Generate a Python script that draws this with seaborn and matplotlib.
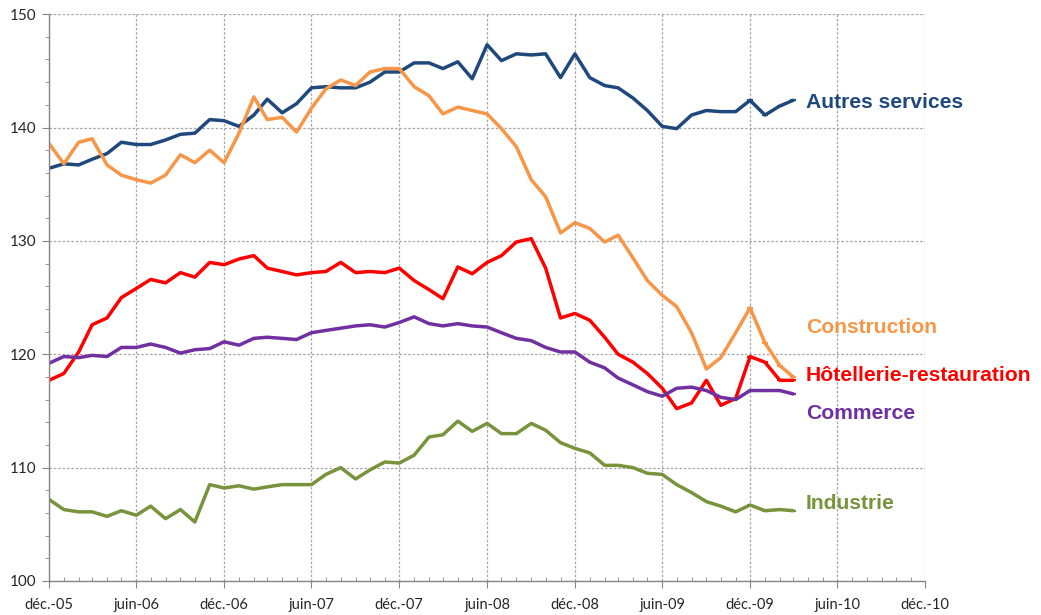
import numpy as np
import pandas as pd
import matplotlib
matplotlib.use("Agg")
import matplotlib.pyplot as plt
import matplotlib.dates as mdates
import seaborn as sns

# ---- data (monthly, déc. 2005 -> mars 2010) ----
months = pd.date_range("2005-12-01", "2010-03-01", freq="MS")

autres_services = [136.4, 136.8, 136.7, 137.2, 137.7, 138.7, 138.5, 138.5, 138.9, 139.4,
                   139.5, 140.7, 140.6, 140.1, 141.1, 142.5, 141.3, 142.1, 143.5, 143.6,
                   143.5, 143.5, 144.0, 144.9, 144.9, 145.7, 145.7, 145.2, 145.8, 144.3,
                   147.3, 145.9, 146.5, 146.4, 146.5, 144.4, 146.5, 144.4, 143.7, 143.5,
                   142.6, 141.5, 140.1, 139.9, 141.1, 141.5, 141.4, 141.4, 142.4, 141.1,
                   141.9, 142.4]
construction = [138.6, 136.8, 138.7, 139.0, 136.7, 135.8, 135.4, 135.1, 135.8, 137.6,
                136.9, 138.0, 136.9, 139.5, 142.7, 140.7, 140.9, 139.6, 141.7, 143.4,
                144.2, 143.7, 144.9, 145.2, 145.2, 143.6, 142.8, 141.2, 141.8, 141.5,
                141.2, 139.9, 138.3, 135.4, 133.9, 130.7, 131.6, 131.1, 129.9, 130.5,
                128.5, 126.5, 125.2, 124.2, 121.9, 118.7, 119.7, 121.9, 124.1, 121.0,
                119.0, 118.0]
hotellerie = [117.7, 118.3, 120.2, 122.6, 123.2, 125.0, 125.8, 126.6, 126.3, 127.2,
              126.8, 128.1, 127.9, 128.4, 128.7, 127.6, 127.3, 127.0, 127.2, 127.3,
              128.1, 127.2, 127.3, 127.2, 127.6, 126.5, 125.7, 124.9, 127.7, 127.1,
              128.1, 128.7, 129.9, 130.2, 127.6, 123.2, 123.6, 123.0, 121.5, 120.0,
              119.3, 118.3, 117.0, 115.2, 115.7, 117.7, 115.5, 116.1, 119.8, 119.3,
              117.7, 117.7]
commerce = [119.2, 119.8, 119.7, 119.9, 119.8, 120.6, 120.6, 120.9, 120.6, 120.1,
            120.4, 120.5, 121.1, 120.8, 121.4, 121.5, 121.4, 121.3, 121.9, 122.1,
            122.3, 122.5, 122.6, 122.4, 122.8, 123.3, 122.7, 122.5, 122.7, 122.5,
            122.4, 121.9, 121.4, 121.2, 120.6, 120.2, 120.2, 119.3, 118.8, 117.9,
            117.3, 116.7, 116.3, 117.0, 117.1, 116.8, 116.2, 116.0, 116.8, 116.8,
            116.8, 116.5]
industrie = [107.2, 106.3, 106.1, 106.1, 105.7, 106.2, 105.8, 106.6, 105.5, 106.3,
             105.2, 108.5, 108.2, 108.4, 108.1, 108.3, 108.5, 108.5, 108.5, 109.4,
             110.0, 109.0, 109.8, 110.5, 110.4, 111.1, 112.7, 112.9, 114.1, 113.2,
             113.9, 113.0, 113.0, 113.9, 113.3, 112.2, 111.7, 111.3, 110.2, 110.2,
             110.0, 109.5, 109.4, 108.5, 107.8, 107.0, 106.6, 106.1, 106.7, 106.2,
             106.3, 106.2]

series_names = ["Autres services", "Construction", "Hôtellerie-restauration",
                "Commerce", "Industrie"]
series_values = [autres_services, construction, hotellerie, commerce, industrie]
colors = ["#1F497D", "#F79646", "#FF0000", "#7030A0", "#77933C"]
label_values = [142.2, 122.4, 118.1, 114.8, 106.8]

fr_months = {1: "janv.", 2: "févr.", 3: "mars", 4: "avr.", 5: "mai", 6: "juin",
             7: "juil.", 8: "août", 9: "sept.", 10: "oct.", 11: "nov.", 12: "déc."}

df = pd.concat([pd.DataFrame({"date": months, "value": v, "serie": n})
                for n, v in zip(series_names, series_values)], ignore_index=True)

# ---- figure ----
sns.set_style("white")
plt.rcParams["font.family"] = ["Lato", "DejaVu Sans"]

fig = plt.figure(figsize=(10.41, 6.15), dpi=100)
ax = fig.add_axes([0.047, 0.0553, 0.8418, 0.9217])

sns.lineplot(data=df, x="date", y="value", hue="serie", hue_order=series_names,
             palette=colors, linewidth=2.5, legend=False, ax=ax)

# small end markers (last months)
for v, c in zip(series_values, colors):
    ax.plot(months[-4:], v[-4:], ls="none", marker="_", ms=5, mew=1.5, color=c)

ax.set_xlim(pd.Timestamp("2005-12-01"), pd.Timestamp("2010-12-01"))
ax.set_ylim(100, 150)
ax.set_xlabel("")
ax.set_ylabel("")

ax.xaxis.set_major_locator(mdates.MonthLocator(bymonth=(6, 12)))
ax.xaxis.set_minor_locator(mdates.MonthLocator())
ax.xaxis.set_major_formatter(plt.FuncFormatter(
    lambda x, pos: f"{fr_months[mdates.num2date(x).month]}-{mdates.num2date(x).year % 100:02d}"))
ax.yaxis.set_major_locator(plt.MultipleLocator(10))
ax.yaxis.set_minor_locator(plt.MultipleLocator(2))

ax.grid(True, which="major", color="#A6A6A6", linestyle=(0, (2, 1.5)), linewidth=0.9)
for s in ["top", "right"]:
    ax.spines[s].set_visible(False)
for s in ["left", "bottom"]:
    ax.spines[s].set_color("#868686")
    ax.spines[s].set_linewidth(1.0)

ax.tick_params(axis="x", which="major", direction="out", length=5, color="#868686",
               labelsize=10.5, pad=7)
ax.tick_params(axis="x", which="minor", direction="in", length=3, color="#868686")
ax.tick_params(axis="y", which="major", direction="out", length=5, color="#868686",
               labelsize=11, pad=4)
ax.tick_params(axis="y", which="minor", direction="out", length=3, color="#868686")
ax.tick_params(bottom=True, left=True, which="both")

for n, c, yv in zip(series_names, colors, label_values):
    ax.text(pd.Timestamp("2010-03-27"), yv, n, color=c, fontsize=15.2,
            fontweight="bold", family=["Liberation Sans", "DejaVu Sans"],
            va="center", ha="left", clip_on=False)

fig.savefig("out.png", dpi=100)
